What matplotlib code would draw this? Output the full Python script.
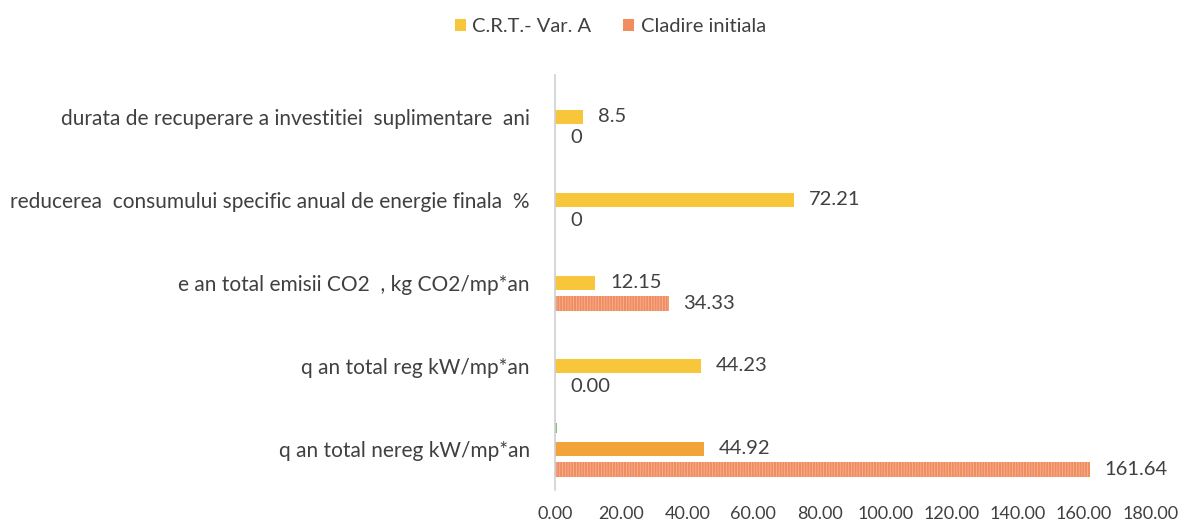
import matplotlib
matplotlib.use("Agg")
import matplotlib.pyplot as plt
import numpy as np
from matplotlib.patches import Patch

categories = [
    "q an total nereg kW/mp*an",
    "q an total reg kW/mp*an",
    "e an total emisii CO2  , kg CO2/mp*an",
    "reducerea  consumului specific anual de energie finala  %",
    "durata de recuperare a investitiei  suplimentare  ani",
]
# top slot (small green series, unlabeled)
extra_vals = [0.7, 0, 0, 0, 0]
# middle slot: C.R.T.- Var. A
crt_vals = [44.92, 44.23, 12.15, 72.21, 8.5]
crt_labels = ["44.92", "44.23", "12.15", "72.21", "8.5"]
# bottom slot: Cladire initiala
init_vals = [161.64, 0.0, 34.33, 0, 0]
init_labels = ["161.64", "0.00", "34.33", "0", "0"]
xticks = [0, 20, 40, 60, 80, 100, 120, 140, 160, 180]

plt.rcParams['font.family'] = ['Lato', 'DejaVu Sans']
text_color = "#404040"

fig = plt.figure(figsize=(11.92, 5.26), dpi=100)
ax = fig.add_axes([0.4656, 0.068, 0.4994, 0.789])

y = np.arange(len(categories))
slot = 0.25
h = 0.17

yellow = "#F8C63A"
orange = "#F2A33A"
salmon = "#F08C5E"
green = "#8CC07A"

ax.barh(y + slot, extra_vals, height=h * 0.7, color=green, linewidth=0)
crt_colors = [orange] + [yellow] * (len(categories) - 1)
ax.barh(y, crt_vals, height=h, color=crt_colors, linewidth=0, label="C.R.T.- Var. A")
plt.rcParams['hatch.linewidth'] = 0.6
ax.barh(y - slot, init_vals, height=h, color=salmon, edgecolor="#F7B49A",
        hatch="||||||", linewidth=0, label="Cladire initiala")

for yi, v, lab in zip(y, crt_vals, crt_labels):
    ax.text(v + 4.5, yi, lab, va="center", ha="left", fontsize=14.5, color=text_color)
for yi, v, lab in zip(y, init_vals, init_labels):
    ax.text(v + 4.5, yi - slot, lab, va="center", ha="left", fontsize=14.5, color=text_color)

ax.set_xlim(0, 180)
ax.set_ylim(-0.5, len(categories) - 0.5)
ax.set_xticks(xticks)
ax.set_xticklabels([f"{t:.2f}" for t in xticks], fontsize=13, color=text_color)
ax.set_yticks(y)
ax.set_yticklabels(categories, fontsize=15, color=text_color)
ax.tick_params(axis="both", length=0)
ax.tick_params(axis="y", pad=18)
ax.tick_params(axis="x", pad=11)
for s in ["top", "right", "bottom"]:
    ax.spines[s].set_visible(False)
ax.spines["left"].set_color("#D0D0D0")
ax.spines["left"].set_linewidth(1.2)

handles = [Patch(facecolor=yellow, label="C.R.T.- Var. A"),
           Patch(facecolor=salmon, label="Cladire initiala")]
fig.legend(handles=handles, loc="center", bbox_to_anchor=(0.512, 0.95), ncol=2,
           frameon=False, fontsize=14.5, handlelength=0.55, handleheight=0.55,
           handletextpad=0.3, columnspacing=1.6, labelcolor=text_color)

fig.savefig("out.png", dpi=100, facecolor="white")
